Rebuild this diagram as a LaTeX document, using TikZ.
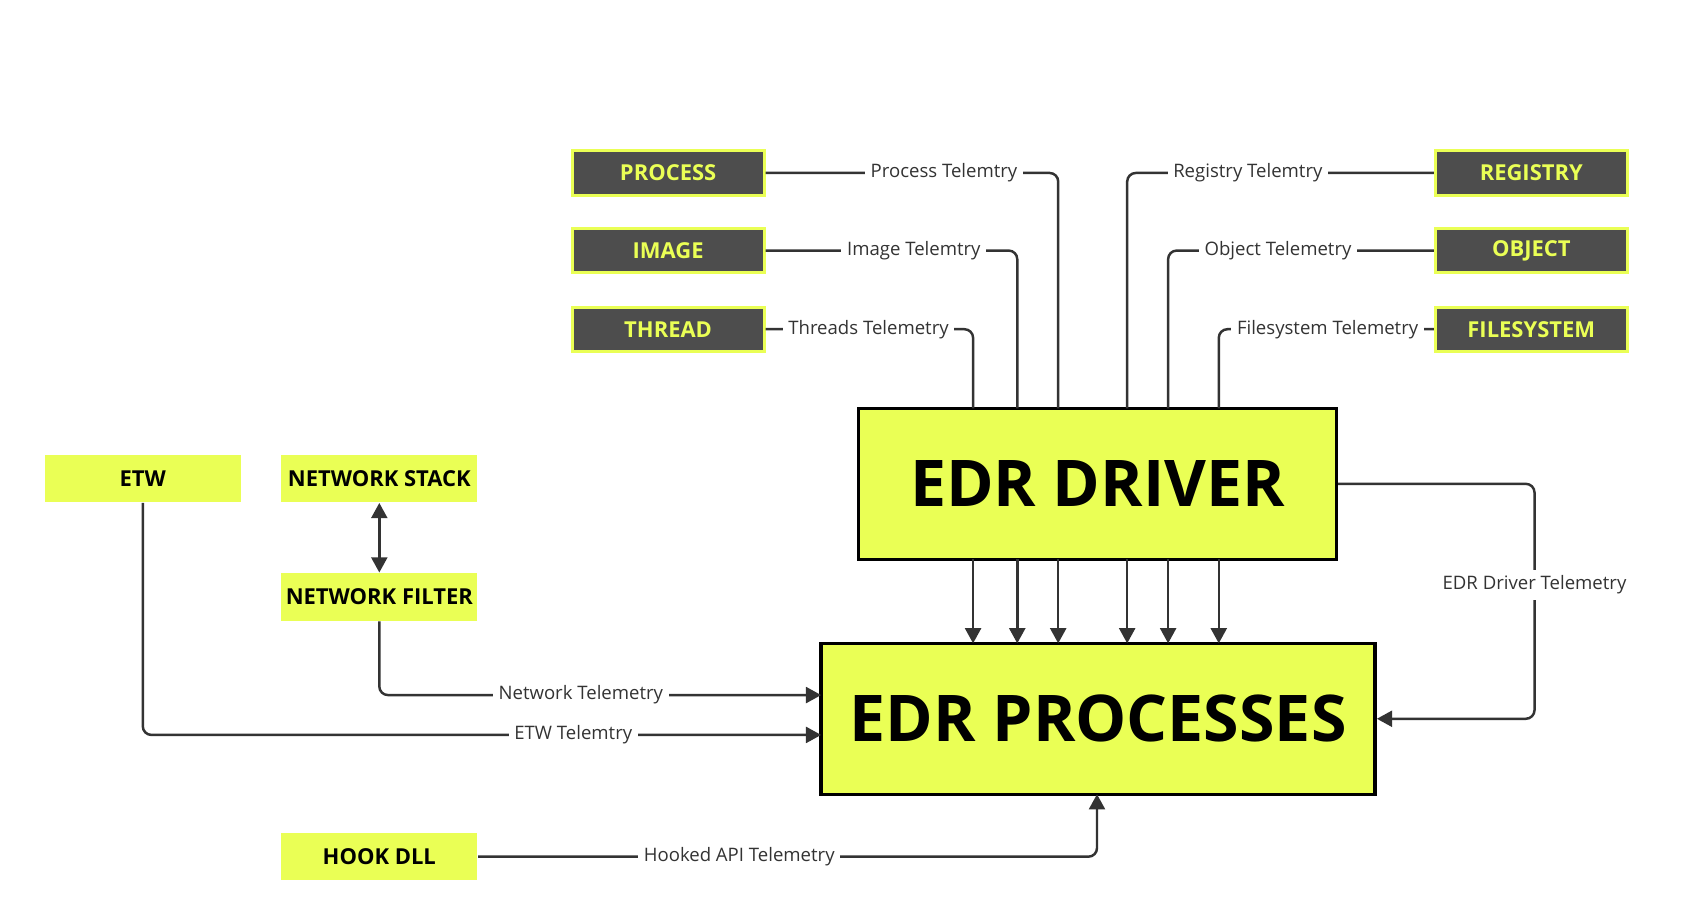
\documentclass[tikz,border=0pt]{standalone}
\usepackage{fontspec}
\setmainfont{Open Sans}
\usetikzlibrary{arrows.meta}
\definecolor{ylw}{HTML}{EAFF55}
\definecolor{drk}{HTML}{4D4D4D}
\definecolor{ln}{HTML}{333333}
\begin{document}
\begin{tikzpicture}[x=0.01cm,y=-0.01cm,
 src/.style={draw=ylw,line width=0.8pt,fill=drk,text=ylw,font=\fontsize{5.8pt}{7pt}\selectfont\bfseries,minimum width=1.78cm,minimum height=0.41cm,inner sep=0},
 lt/.style={fill=ylw,draw=none,text=black,font=\fontsize{5.8pt}{7pt}\selectfont\bfseries,minimum width=1.82cm,minimum height=0.44cm,inner sep=0},
 big/.style={fill=ylw,draw=black,line width=0.9pt,font=\fontsize{17pt}{20pt}\selectfont\bfseries,inner sep=0},
 con/.style={draw=ln,line width=0.65pt,rounded corners=0.08cm},
 tip/.style={Triangle[length=4pt,width=4.2pt]},
 arr/.style={con,-{Triangle[length=4pt,width=4.2pt]}},
 lab/.style={fill=white,font=\fontsize{4.9pt}{6pt}\selectfont,text=ln,inner sep=1.5pt}]
\useasboundingbox (0,0) rectangle (1572,833);
\node[src] (proc) at (620,160.5) {PROCESS};
\node[src] (img) at (620,232.5) {IMAGE};
\node[src] (thr) at (620,305.5) {THREAD};
\node[src] (reg) at (1421,160.5) {REGISTRY};
\node[src] (obj) at (1421,232.5) {OBJECT};
\node[src] (fs) at (1421,305.5) {FILESYSTEM};
\node[big,minimum width=4.43cm,minimum height=1.4cm] (drv) at (1018.5,449) {EDR DRIVER};
\node[big,minimum width=5.14cm,minimum height=1.4cm] (pr) at (1019,667) {EDR PROCESSES};
\node[lt] (etw) at (132.5,444) {ETW};
\node[lt] (ns) at (352,444) {NETWORK STACK};
\node[lt] (nf) at (352,554) {NETWORK FILTER};
\node[lt] (hk) at (352,795) {HOOK DLL};
% top connectors
\draw[con] (proc.east) -- (982,160.5) -- (982,379);
\node[lab] at (876,160.5) {Process Telemtry};
\draw[con] (img.east) -- (944,232.5) -- (944,379);
\node[lab] at (848,232.5) {Image Telemtry};
\draw[con] (thr.east) -- (903,305.5) -- (903,379);
\node[lab] at (806,305.5) {Threads Telemetry};
\draw[con] (reg.west) -- (1046,160.5) -- (1046,379);
\node[lab] at (1158,160.5) {Registry Telemtry};
\draw[con] (obj.west) -- (1084,232.5) -- (1084,379);
\node[lab] at (1186,232.5) {Object Telemetry};
\draw[con] (fs.west) -- (1131,305.5) -- (1131,379);
\node[lab] at (1232,305.5) {Filesystem Telemetry};
% driver to processes
\foreach \x in {903,944,982,1046,1084,1131}
  \draw[arr] (\x,519) -- (\x,597);
% driver telemetry
\draw[arr] (drv.east) -- (1424,449) -- (1424,667) -- (pr.east);
\node[lab] at (1424,543) {EDR Driver Telemetry};
% network
\draw[con,{Triangle[length=4pt,width=4.2pt]}-{Triangle[length=4pt,width=4.2pt]}] (ns.south) -- (nf.north);
\draw[arr] (nf.south) -- (352,645) -- (762,645);
\node[lab] at (539,645) {Network Telemetry};
\draw[arr] (etw.south) -- (132.5,682) -- (762,682);
\node[lab] at (532,682) {ETW Telemtry};
\draw[arr] (hk.east) -- (1018,795) -- (1018,737);
\node[lab] at (686,795) {Hooked API Telemetry};
\end{tikzpicture}
\end{document}
